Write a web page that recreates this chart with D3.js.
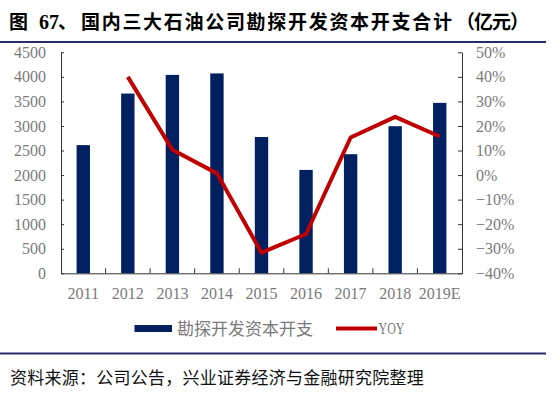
<!DOCTYPE html>
<html>
<head>
<meta charset="utf-8">
<script src="https://cdn.jsdelivr.net/npm/d3@7"></script>
<style>
  body { margin: 0; background: #fff; }
  svg { display: block; }
</style>
</head>
<body>
<div id="chart"></div>
<script>
/*****************************************************
 * DATA
 *****************************************************/
const years = ["2011", "2012", "2013", "2014", "2015", "2016", "2017", "2018", "2019E"];
const capex = [2610, 3660, 4040, 4070, 2775, 2105, 2425, 2995, 3470];
const yoy = [null, 0.40, 0.103, 0.007, -0.316, -0.24, 0.153, 0.237, 0.157];
const leftTicks = [0, 500, 1000, 1500, 2000, 2500, 3000, 3500, 4000, 4500];
const rightTicks = [-0.4, -0.3, -0.2, -0.1, 0, 0.1, 0.2, 0.3, 0.4, 0.5];

const titleParts = ["图", "67", "、", "国内三大石油公司勘探开发资本开支合计", "（亿元）"];
const sourceText = "资料来源：公司公告，兴业证券经济与金融研究院整理";
const seriesNames = ["勘探开发资本开支", "YOY"];

const width = 554, height = 395;
const navy = "#002060", red = "#c00000", rule = "#272b6e", labelGray = "#7a7a7a";
const serif = "'Liberation Serif', 'DejaVu Serif', serif";
const cjk = "'Noto Sans CJK SC', sans-serif";

const svg = d3.select("#chart")
  .append("svg")
  .attr("width", width)
  .attr("height", height);

/*****************************************************
 * TITLE + RULES
 *****************************************************/
const title = svg.append("text")
  .attr("y", 29)
  .attr("font-family", cjk)
  .attr("font-size", "19px")
  .attr("font-weight", 700)
  .attr("fill", "#000");

title.append("tspan").attr("x", 9).text(titleParts[0]);
title.append("tspan").attr("x", 39).attr("font-family", serif).attr("font-size", "20px").text(titleParts[1]);
title.append("tspan").attr("x", 58).text(titleParts[2]);
title.append("tspan").attr("x", 81).attr("letter-spacing", "1.7px").text(titleParts[3]);
title.append("tspan").attr("x", 456).attr("letter-spacing", "-1px").text(titleParts[4]);

svg.append("line")
  .attr("x1", 0).attr("x2", 546)
  .attr("y1", 42).attr("y2", 42)
  .attr("stroke", rule)
  .attr("stroke-width", 2);

svg.append("line")
  .attr("x1", 0).attr("x2", 546)
  .attr("y1", 353.5).attr("y2", 353.5)
  .attr("stroke", rule)
  .attr("stroke-width", 2);

svg.append("text")
  .attr("x", 10)
  .attr("y", 384)
  .attr("font-family", cjk)
  .attr("font-size", "17px")
  .attr("letter-spacing", "0.25px")
  .attr("fill", "#111")
  .text(sourceText);

/*****************************************************
 * SCALES
 *****************************************************/
const plotLeft = 61, plotRight = 462, plotTop = 52.3, plotBottom = 273.3;

const x = d3.scaleBand()
  .domain(years)
  .range([plotLeft, plotRight])
  .padding(0);

const yLeft = d3.scaleLinear()
  .domain([0, 4500])
  .range([plotBottom, plotTop]);

const yRight = d3.scaleLinear()
  .domain([-0.4, 0.5])
  .range([plotBottom, plotTop]);

/*****************************************************
 * BARS
 *****************************************************/
const barW = x.bandwidth() * 0.3;

svg.append("g")
  .selectAll("rect")
  .data(years)
  .enter()
  .append("rect")
  .attr("x", d => x(d) + (x.bandwidth() - barW) / 2)
  .attr("width", barW)
  .attr("y", (d, i) => yLeft(capex[i]))
  .attr("height", (d, i) => yLeft(0) - yLeft(capex[i]))
  .attr("fill", navy);

/*****************************************************
 * AXES
 *****************************************************/
const styleAxis = g => {
  g.selectAll("text")
    .attr("font-family", serif)
    .attr("font-size", "16px")
    .attr("fill", labelGray);
  g.selectAll("line").attr("stroke", "#333");
  g.select(".domain").attr("stroke", "#333");
};

svg.append("g")
  .attr("transform", `translate(${plotLeft},0)`)
  .call(d3.axisLeft(yLeft).tickValues(leftTicks).tickSize(-3).tickSizeOuter(0).tickPadding(15).tickFormat(d3.format("d")))
  .call(styleAxis);

svg.append("g")
  .attr("transform", `translate(${plotRight},0)`)
  .call(d3.axisRight(yRight).tickValues(rightTicks).tickSize(-4).tickSizeOuter(0).tickPadding(14).tickFormat(d3.format(".0%")))
  .call(styleAxis);

svg.append("g")
  .attr("transform", `translate(0,${plotBottom})`)
  .call(d3.axisBottom(x).tickSize(0).tickSizeOuter(0).tickPadding(14))
  .call(styleAxis);

// category boundary ticks on x axis (pointing up)
svg.append("g")
  .selectAll("line")
  .data(years.slice(1))
  .enter()
  .append("line")
  .attr("x1", d => x(d)).attr("x2", d => x(d))
  .attr("y1", plotBottom).attr("y2", plotBottom - 5)
  .attr("stroke", "#333");

/*****************************************************
 * YOY LINE
 *****************************************************/
const line = d3.line()
  .defined(d => d.v !== null)
  .x(d => x(d.year) + x.bandwidth() / 2)
  .y(d => yRight(d.v));

svg.append("path")
  .datum(years.map((year, i) => ({ year, v: yoy[i] })))
  .attr("d", line)
  .attr("fill", "none")
  .attr("stroke", red)
  .attr("stroke-width", 4)
  .attr("stroke-linejoin", "round");

/*****************************************************
 * LEGEND
 *****************************************************/
const legend = svg.append("g");

legend.append("rect")
  .attr("x", 134.5).attr("y", 325)
  .attr("width", 37.5).attr("height", 7)
  .attr("fill", navy);

legend.append("text")
  .attr("x", 177).attr("y", 334.5)
  .attr("font-family", cjk)
  .attr("font-size", "17px")
  .attr("fill", labelGray)
  .text(seriesNames[0]);

legend.append("line")
  .attr("x1", 336).attr("x2", 377)
  .attr("y1", 328.5).attr("y2", 328.5)
  .attr("stroke", red)
  .attr("stroke-width", 4);

legend.append("text")
  .attr("x", 378.5).attr("y", 334)
  .attr("font-family", serif)
  .attr("font-size", "17px")
  .attr("fill", labelGray)
  .attr("textLength", 26)
  .attr("lengthAdjust", "spacingAndGlyphs")
  .text(seriesNames[1]);
</script>
</body>
</html>
